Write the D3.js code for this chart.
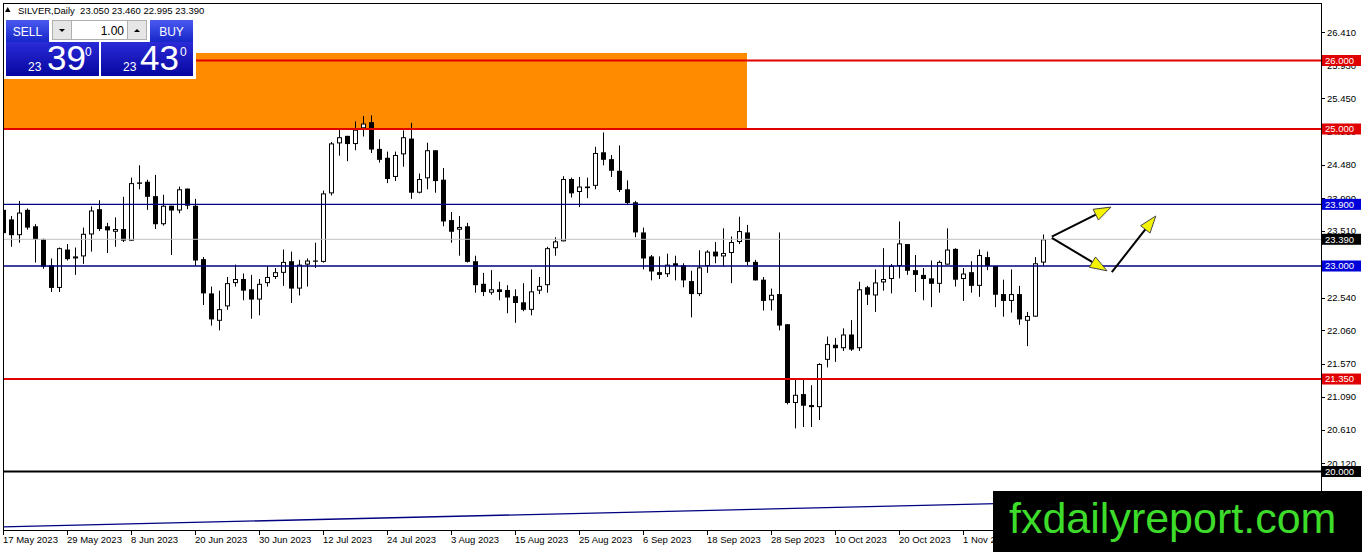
<!DOCTYPE html>
<html><head><meta charset="utf-8">
<script src="https://cdn.jsdelivr.net/npm/d3@7"></script>
<style>html,body{margin:0;padding:0;background:#fff;overflow:hidden}svg{display:block;font-family:"Liberation Sans",Arial,sans-serif}</style>
</head><body>
<script>
// ---- data (daily SILVER candles, bar index 0 = 17 May 2023) ----
const opens  = [23.82,23.68,23.45,23.82,23.58,23.39,23.01,22.68,23.24,23.11,23.14,23.46,23.83,23.58,23.50,23.54,23.37,24.22,24.23,24.02,23.61,23.88,23.81,24.13,23.88,23.10,22.60,22.20,22.41,22.75,22.81,22.66,22.51,22.75,22.84,22.90,23.07,22.67,23.02,23.08,23.06,24.06,24.79,24.90,24.78,25.01,25.10,24.71,24.58,24.30,24.63,24.86,24.07,24.28,24.69,24.26,23.67,23.53,23.58,23.07,22.74,22.61,22.66,22.65,22.56,22.47,22.36,22.64,22.72,23.26,23.36,24.27,24.08,24.16,24.17,24.66,24.56,24.39,24.12,23.93,23.49,23.14,22.91,22.88,23.04,23.01,22.78,22.59,23.00,23.21,23.14,23.19,23.35,23.49,23.06,22.80,22.50,22.59,22.15,21.00,21.13,20.97,20.94,21.63,21.85,21.80,22.00,21.80,22.69,22.57,22.76,22.81,23.00,23.32,22.94,22.87,22.82,22.74,23.02,23.25,22.81,22.91,22.71,23.13,23.00,22.59,22.49,22.59,22.20,22.26,23.05];
const highs  = [23.88,23.73,23.95,23.84,23.61,23.40,23.11,23.27,23.32,23.27,23.56,23.87,23.96,23.63,23.71,24.01,24.29,24.47,24.26,24.33,24.04,23.88,24.16,24.13,23.98,23.13,22.70,22.64,22.84,23.02,22.89,22.87,22.81,23.00,22.97,23.24,23.21,23.09,23.11,23.34,24.10,24.81,24.99,24.90,25.11,25.19,25.20,24.85,24.67,24.67,24.98,25.09,24.35,24.80,24.69,24.43,23.79,23.73,23.63,23.15,22.90,22.94,22.77,22.72,22.66,22.75,22.95,22.84,23.28,23.42,24.31,24.29,24.30,24.29,24.74,24.95,24.62,24.76,24.25,23.95,23.56,23.16,23.14,23.18,23.15,23.04,22.93,23.23,23.23,23.35,23.55,23.43,23.72,23.60,23.09,22.84,22.67,23.49,22.15,21.36,21.36,21.26,21.58,21.97,21.95,22.09,22.21,22.77,22.71,22.95,23.26,23.03,23.65,23.32,23.16,22.97,23.08,23.08,23.55,23.26,22.97,23.07,23.24,23.21,23.00,22.80,22.95,22.71,22.33,23.13,23.46];
const lows   = [23.30,23.28,23.34,23.53,23.05,22.96,22.62,22.62,23.08,22.87,23.03,23.21,23.51,23.19,23.28,23.35,23.37,24.12,23.82,23.54,23.59,23.16,23.77,23.83,23.00,22.43,22.13,22.06,22.36,22.70,22.50,22.23,22.28,22.70,22.81,22.71,22.46,22.57,22.70,22.97,23.05,24.03,24.61,24.53,24.69,24.89,24.65,24.51,24.21,24.24,24.45,23.98,24.06,24.12,24.07,23.58,23.34,23.15,23.05,22.61,22.56,22.58,22.50,22.31,22.17,22.34,22.28,22.59,22.61,23.15,23.36,24.00,23.86,23.99,24.12,24.47,24.30,24.08,23.89,23.42,22.95,22.79,22.81,22.84,22.79,22.69,22.25,22.56,22.90,23.04,22.99,22.75,23.32,23.01,22.79,22.35,22.35,22.06,20.98,20.63,20.65,20.65,20.75,21.52,21.60,21.76,21.76,21.76,22.43,22.33,22.64,22.60,22.82,22.87,22.62,22.50,22.40,22.61,23.02,22.70,22.49,22.61,22.55,22.94,22.40,22.26,22.32,22.14,21.83,22.26,22.995];
const closes = [23.48,23.45,23.78,23.56,23.39,22.99,22.68,23.26,23.10,23.14,23.47,23.81,23.54,23.52,23.54,23.37,24.21,24.20,24.01,23.61,23.88,23.81,24.12,23.88,23.08,22.60,22.22,22.37,22.75,22.81,22.64,22.51,22.74,22.84,22.91,23.06,22.67,23.02,23.08,23.07,24.06,24.79,24.88,24.78,24.99,25.08,24.70,24.55,24.27,24.62,24.88,24.07,24.27,24.69,24.24,23.65,23.50,23.57,23.06,22.72,22.62,22.66,22.62,22.54,22.46,22.36,22.63,22.71,23.26,23.36,24.27,24.06,24.16,24.16,24.65,24.55,24.39,24.11,23.92,23.49,23.11,22.92,22.87,23.02,23.00,22.79,22.59,22.98,23.21,23.14,23.19,23.35,23.51,23.06,22.79,22.49,22.58,22.13,21.00,21.12,20.96,20.94,21.57,21.86,21.80,22.00,21.78,22.66,22.58,22.76,22.81,23.00,23.33,22.93,22.87,22.81,22.74,23.06,23.24,22.80,22.89,22.71,23.16,23.00,22.58,22.49,22.59,22.22,22.27,23.04,23.39];

const dateTickIndex  = [0,8,16,24,32,40,48,56,64,72,80,88,96,104,112,120];
const dateTickLabels = ["17 May 2023","29 May 2023","8 Jun 2023","20 Jun 2023","30 Jun 2023","12 Jul 2023","24 Jul 2023","3 Aug 2023","15 Aug 2023","25 Aug 2023","6 Sep 2023","18 Sep 2023","28 Sep 2023","10 Oct 2023","20 Oct 2023","1 Nov 2023"];
const priceTicks = [26.41,25.93,25.45,24.96,24.48,23.99,23.51,23.03,22.54,22.06,21.57,21.09,20.61,20.12];

const redLevels   = [26.0,25.0,21.35];
const blueLevels  = [23.9,23.0];
const bidLevel    = 23.39;
const blackLevels = [20.0];

const zoneIdx   = [-0.4,93];
const zonePrice = [25.0,26.11];
const trendIdx   = [-0.4,160];
const trendPrice = [19.19,19.63];
// arrows: [fromIdx, fromPrice, toIdx, toPrice]
const arrowsFrom = [[131.1,23.43],[131.1,23.41],[138.6,22.91]];
const arrowsTo   = [[138.5,23.86],[138.0,22.93],[144.1,23.73]];

const symbolTitle = "SILVER,Daily";
const sellPrice = ["23","39","0"];
const buyPrice  = ["23","43","0"];
const lotSize = "1.00";
const watermark = "fxdailyreport.com";

// ---- layout ----
const W=1362,H=552, L=3, T=3, R=1321, B=530;
const x = d3.scaleLinear().domain([0,130]).range([3,1043]);
const y = d3.scaleLinear().domain([20,26]).range([471.5,60.5]);

const svg = d3.select("body").append("svg").attr("width",W).attr("height",H);
const defs = svg.append("defs");
defs.append("clipPath").attr("id","plot").append("rect").attr("x",L).attr("y",T).attr("width",R-L).attr("height",B-T);
const g1 = defs.append("linearGradient").attr("id","btn").attr("x1",0).attr("y1",0).attr("x2",0).attr("y2",1);
g1.append("stop").attr("offset","0%").attr("stop-color","#4a5af0");
g1.append("stop").attr("offset","100%").attr("stop-color","#1626c8");
const g2 = defs.append("linearGradient").attr("id","big").attr("x1",0).attr("y1",0).attr("x2",0).attr("y2",1);
g2.append("stop").attr("offset","0%").attr("stop-color","#2b2bd8");
g2.append("stop").attr("offset","100%").attr("stop-color","#0606a0");

svg.append("rect").attr("width",W).attr("height",H).attr("fill","#fff");
const plot = svg.append("g").attr("clip-path","url(#plot)");

// zone
plot.append("rect")
  .attr("x",x(zoneIdx[0])).attr("width",x(zoneIdx[1])-x(zoneIdx[0]))
  .attr("y",y(zonePrice[1])).attr("height",y(zonePrice[0])-y(zonePrice[1]))
  .attr("fill","#ff8c00");

// trendline
plot.append("line").attr("x1",x(trendIdx[0])).attr("y1",y(trendPrice[0]))
  .attr("x2",x(trendIdx[1])).attr("y2",y(trendPrice[1]))
  .attr("stroke","#000080").attr("stroke-width",1.3);

// candles
const idx = d3.range(opens.length);
const cg = plot.append("g");
cg.selectAll("line.w").data(idx).join("line")
  .attr("x1",i=>x(i)+0.5).attr("x2",i=>x(i)+0.5)
  .attr("y1",i=>y(highs[i])).attr("y2",i=>y(lows[i]))
  .attr("stroke","#000").attr("stroke-width",1);
cg.selectAll("rect.b").data(idx).join("rect")
  .attr("x",i=>closes[i]>=opens[i]? x(i)-1.5 : x(i)-2)
  .attr("width",i=>closes[i]>=opens[i]? 4 : 5)
  .attr("y",i=>{const t=y(Math.max(opens[i],closes[i])); return closes[i]>=opens[i]? t+0.5 : t;})
  .attr("height",i=>{const h=Math.abs(y(opens[i])-y(closes[i])); return closes[i]>=opens[i]? Math.max(h-1,0.6) : Math.max(h,1.2);})
  .attr("fill",i=>closes[i]>=opens[i]?"#fff":"#000")
  .attr("stroke",i=>closes[i]>=opens[i]?"#000":"none")
  .attr("stroke-width",1);

// horizontal levels
const hl = plot.append("g");
hl.append("line").attr("x1",L).attr("x2",R).attr("y1",y(bidLevel)).attr("y2",y(bidLevel)).attr("stroke","#c0c0c0").attr("stroke-width",1);
hl.selectAll("line.blue").data(blueLevels).join("line").attr("x1",L).attr("x2",R)
  .attr("y1",d=>y(d)).attr("y2",d=>y(d)).attr("stroke","#000080").attr("stroke-width",1.3);
hl.selectAll("line.red").data(redLevels).join("line").attr("x1",L).attr("x2",R)
  .attr("y1",d=>y(d)).attr("y2",d=>y(d)).attr("stroke","#e00000").attr("stroke-width",2);
hl.selectAll("line.blk").data(blackLevels).join("line").attr("x1",L).attr("x2",R)
  .attr("y1",d=>y(d)).attr("y2",d=>y(d)).attr("stroke","#000").attr("stroke-width",2);

// arrows
const ag = plot.append("g");
arrowsFrom.forEach((f,k)=>{
  const t = arrowsTo[k];
  const x1=x(f[0]), y1=y(f[1]), x2=x(t[0]), y2=y(t[1]);
  const ang=Math.atan2(y2-y1,x2-x1), len=17, hw=6;
  const bx=x2-len*Math.cos(ang), by=y2-len*Math.sin(ang);
  ag.append("line").attr("x1",x1).attr("y1",y1).attr("x2",bx).attr("y2",by).attr("stroke","#000").attr("stroke-width",2);
  const px=-Math.sin(ang), py=Math.cos(ang);
  ag.append("polygon").attr("points",[[x2,y2],[bx+px*hw,by+py*hw],[bx-px*hw,by-py*hw]].map(p=>p.join(",")).join(" "))
    .attr("fill","#f4f400").attr("stroke","#444").attr("stroke-width",1);
});

// frame
svg.append("rect").attr("x",L+0.5).attr("y",T+0.5).attr("width",R-L).attr("height",B-T)
  .attr("fill","none").attr("stroke","#000").attr("stroke-width",1);

// right axis
const ax = svg.append("g").attr("font-size","9.5px").attr("fill","#000");
ax.selectAll("line.t").data(priceTicks).join("line")
  .attr("x1",R).attr("x2",R+4).attr("y1",d=>Math.round(y(d))+0.5).attr("y2",d=>Math.round(y(d))+0.5)
  .attr("stroke","#000");
ax.selectAll("text.t").data(priceTicks).join("text")
  .attr("x",R+6).attr("y",d=>y(d)).attr("dy","0.35em").text(d=>d.toFixed(3));

// bottom axis
const bx = svg.append("g").attr("font-size","9.5px").attr("fill","#000");
bx.selectAll("line").data(dateTickIndex).join("line")
  .attr("x1",i=>x(i)+0.5).attr("x2",i=>x(i)+0.5).attr("y1",B).attr("y2",B+5).attr("stroke","#000");
bx.selectAll("text").data(dateTickIndex).join("text")
  .attr("x",i=>x(i)).attr("y",543).text((i,k)=>dateTickLabels[k]);

// price labels
const labels = [
  ...redLevels.map(v=>({v,c:"#e00000"})),
  ...blueLevels.map(v=>({v,c:"#0000d8"})),
  {v:bidLevel,c:"#000"},
  ...blackLevels.map(v=>({v,c:"#000"}))
];
const lg = svg.append("g").attr("font-size","9.5px");
labels.forEach(d=>{
  const cy=y(d.v);
  lg.append("rect").attr("x",R+1).attr("y",cy-5.5).attr("width",W-R-2).attr("height",11).attr("fill",d.c);
  lg.append("text").attr("x",R+4).attr("y",cy).attr("dy","0.36em").attr("fill","#fff").text(d.v.toFixed(3));
});

// header title
const last = opens.length-1;
svg.append("path").attr("d","M5,12 L10.5,12 L7.75,7 Z").attr("fill","#000");
svg.append("text").attr("x",18).attr("y",14).attr("font-size","9.5px").attr("fill","#000")
  .attr("xml:space","preserve")
  .text(`${symbolTitle}  ${opens[last].toFixed(3)} ${highs[last].toFixed(3)} ${lows[last].toFixed(3)} ${closes[last].toFixed(3)}`);

// one click trading panel
const p = svg.append("g");
p.append("rect").attr("x",4).attr("y",17).attr("width",192).attr("height",62).attr("fill","#fff");
p.append("rect").attr("x",6).attr("y",20).attr("width",43).attr("height",22).attr("fill","url(#btn)");
p.append("text").attr("x",27.5).attr("y",35.5).attr("text-anchor","middle").attr("font-size","12px").attr("fill","#fff").text("SELL");
p.append("rect").attr("x",150).attr("y",20).attr("width",43).attr("height",22).attr("fill","url(#btn)");
p.append("text").attr("x",171.5).attr("y",35.5).attr("text-anchor","middle").attr("font-size","12px").attr("fill","#fff").text("BUY");
p.append("rect").attr("x",52.5).attr("y",20.5).attr("width",19).attr("height",19).attr("fill","#e6e6e6").attr("stroke","#b0b0b0");
p.append("path").attr("d","M59,29 L65,29 L62,32 Z").attr("fill","#000");
p.append("rect").attr("x",71.5).attr("y",20.5).attr("width",56).attr("height",19).attr("fill","#fff").attr("stroke","#b0b0b0");
p.append("text").attr("x",124).attr("y",34.5).attr("text-anchor","end").attr("font-size","12px").attr("fill","#000").text(lotSize);
p.append("rect").attr("x",127.5).attr("y",20.5).attr("width",19).attr("height",19).attr("fill","#e6e6e6").attr("stroke","#b0b0b0");
p.append("path").attr("d","M134,32 L140,32 L137,29 Z").attr("fill","#000");
[[6,sellPrice,28,47,85],[101,buyPrice,123,140,180]].forEach(([bx0,pr,xs,xb,xsup])=>{
  p.append("rect").attr("x",bx0).attr("y",42).attr("width",bx0===6?93:92).attr("height",34).attr("fill","url(#big)");
  p.append("text").attr("x",xs).attr("y",71).attr("font-size","12px").attr("fill","#fff").text(pr[0]);
  p.append("text").attr("x",xb).attr("y",70).attr("font-size","35px").attr("fill","#fff").text(pr[1]);
  p.append("text").attr("x",xsup).attr("y",56).attr("font-size","12px").attr("fill","#fff").text(pr[2]);
});

// watermark
svg.append("rect").attr("x",993).attr("y",491).attr("width",W-993).attr("height",H-491).attr("fill","#000");
svg.append("text").attr("x",1009).attr("y",533).attr("font-size","43px").attr("fill","#3ddc2a").text(watermark);
</script>
</body></html>
